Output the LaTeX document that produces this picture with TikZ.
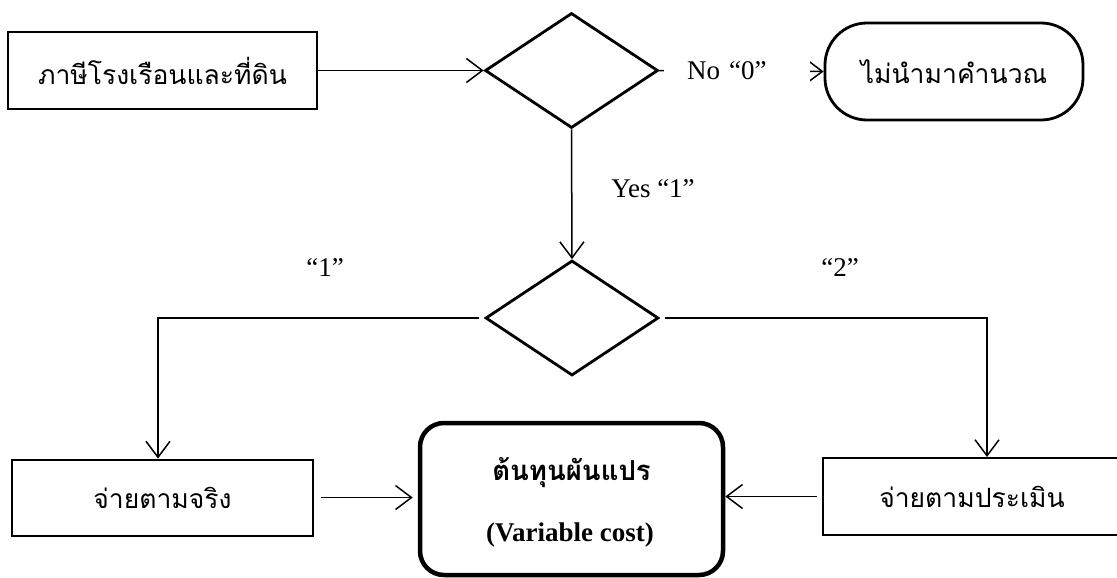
\documentclass[tikz,border=0pt]{standalone}
\usepackage{fontspec}
\setmainfont{Liberation Serif}
\newfontfamily\thai[Script=Thai]{Loma}
\usetikzlibrary{shapes.geometric,arrows.meta,calc}
\begin{document}
\begin{tikzpicture}[x=1pt,y=-1pt,
  every node/.style={font=\fontsize{27}{32}\selectfont},
  thaitext/.style={font=\thai\fontsize{26.5}{30}\selectfont},
  box/.style={draw,line width=2pt,inner sep=0pt,thaitext},
  decision/.style={draw,diamond,line width=2.8pt,inner sep=0pt,minimum width=173pt,minimum height=115pt},
  flow/.style={line width=1.5pt,-{Straight Barb[length=16pt,width=24pt,line width=1.5pt]}},
  lbl/.style={inner sep=0pt}
]
\useasboundingbox (0,0) rectangle (1117,578);

% boxes and decisions
\node[box,minimum width=309pt,minimum height=77pt] (tax) at (162.5,70.5) {ภาษีโรงเรือนและที่ดิน};
\node[decision] (d1) at (571.5,70.5) {};
\node[box,line width=2.8pt,rounded corners=42pt,minimum width=258pt,minimum height=97pt] (skip) at (954,71.5) {ไม่นำมาคำนวณ};
\node[decision] (d2) at (572,318) {};
\node[box,minimum width=301pt,minimum height=76pt] (actual) at (162.5,497.5) {จ่ายตามจริง};
\node[box,minimum width=298pt,minimum height=77pt] (assess) at (972,496.5) {จ่ายตามประเมิน};
\node[draw,line width=4.5pt,rounded corners=24pt,minimum width=303pt,minimum height=152pt,inner sep=0pt] (cost) at (571.5,499) {};
\node[lbl,font=\thai\bfseries\fontsize{27.5}{30}\selectfont] (costth) at (571.5,473) {ต้นทุนผันแปร};
\node[lbl,font=\bfseries\fontsize{27}{32}\selectfont] (costen) at (570,535) {(Variable cost)};

% connectors
\draw[flow] (tax.east) -- (d1.west);
\draw[flow] (d1.east) -- node[pos=0,anchor=west,xshift=4pt,fill=white,inner ysep=12pt,inner xsep=23pt,text width=100pt,align=left] (no) {No “0”} (skip.west);
\draw[flow] (d1.south) -- (d2.north);
\draw[flow,shorten <=5pt] (d2.west) -| ([xshift=-4.5pt]actual.north);
\draw[flow,shorten <=5pt] (d2.east) -| ([xshift=15pt]assess.north);
\draw[flow,shorten <=7pt,shorten >=5pt] (actual.east) -- (actual.east -| cost.west);
\draw[flow,shorten <=5pt] (assess.west) -- (assess.west -| cost.east);

% branch labels
\node[lbl] (yes) at (653,189) {Yes “1”};
\node[lbl] (one) at (325,268) {“1”};
\node[lbl] (two) at (840,268) {“2”};
\end{tikzpicture}
\end{document}
